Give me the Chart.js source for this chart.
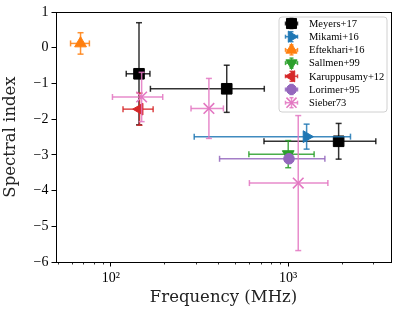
<!DOCTYPE html>
<html><head><meta charset="utf-8">
<script src="https://cdn.jsdelivr.net/npm/chart.js@4.4.1/dist/chart.umd.min.js"></script>
<style>html,body{margin:0;padding:0;background:#fff}</style>
</head><body>
<canvas id="c" width="401" height="315"></canvas>
<script>
// ---- data ----
const seriesNames = ['Meyers+17','Mikami+16','Eftekhari+16','Sallmen+99','Karuppusamy+12','Lorimer+95','Sieber73'];

const meyersFreq = [144, 450, 1925];
const meyersFreqErr = [22, 283, 1195];
const meyersIndex = [-0.73, -1.15, -2.62];
const meyersIndexErr = [1.43, 0.66, 0.50];

const mikamiFreq = [1270];
const mikamiFreqErr = [975];
const mikamiIndex = [-2.49];
const mikamiIndexErr = [0.35];

const eftekhariFreq = [67.4];
const eftekhariFreqErr = [8.2];
const eftekhariIndex = [0.12];
const eftekhariIndexErr = [0.30];

const sallmenFreq = [1000];
const sallmenFreqErr = [400];
const sallmenIndex = [-2.98];
const sallmenIndexErr = [0.38];

const karuppusamyFreq = [145];
const karuppusamyFreqErr = [28];
const karuppusamyIndex = [-1.72];
const karuppusamyIndexErr = [0.45];

const lorimerFreq = [1010];
const lorimerFreqErr = [600];
const lorimerIndex = [-3.11];
const lorimerIndexErr = [0.10];

const sieberFreq = [149, 357, 1139];
const sieberFreqErr = [47, 74, 535];
const sieberIndex = [-1.38, -1.70, -3.79];
const sieberIndexErr = [0.69, 0.84, 1.89];

const xTickValues = [100, 1000];
const xTickLabels = ['10\u00B2', '10\u00B3'];
const xMinorTicks = [50,60,70,80,90,200,300,400,500,600,700,800,900,2000,3000];

// ---- styles ----
const styles = [
  {color:'#000000', bar:'rgba(0,0,0,0.8)', pointStyle:'rect', rotation:0, radius:7.5},
  {color:'#1f77b4', bar:'rgba(31,119,180,0.85)', pointStyle:'triangle', rotation:90, radius:6.8},
  {color:'#ff7f0e', bar:'rgba(255,127,14,0.85)', pointStyle:'triangle', rotation:0, radius:6.8},
  {color:'#2ca02c', bar:'rgba(44,160,44,0.85)', pointStyle:'triangle', rotation:180, radius:6.8},
  {color:'#d62728', bar:'rgba(214,39,40,0.85)', pointStyle:'triangle', rotation:-90, radius:6.8},
  {color:'#9467bd', bar:'rgba(148,103,189,0.85)', pointStyle:'circle', rotation:0, radius:5.3},
  {color:'#e377c2', bar:'rgba(227,119,194,0.85)', pointStyle:'crossRot', rotation:0, radius:7.5}
];

const seriesData = [
  [meyersFreq, meyersFreqErr, meyersIndex, meyersIndexErr],
  [mikamiFreq, mikamiFreqErr, mikamiIndex, mikamiIndexErr],
  [eftekhariFreq, eftekhariFreqErr, eftekhariIndex, eftekhariIndexErr],
  [sallmenFreq, sallmenFreqErr, sallmenIndex, sallmenIndexErr],
  [karuppusamyFreq, karuppusamyFreqErr, karuppusamyIndex, karuppusamyIndexErr],
  [lorimerFreq, lorimerFreqErr, lorimerIndex, lorimerIndexErr],
  [sieberFreq, sieberFreqErr, sieberIndex, sieberIndexErr]
];

const datasets = seriesData.map((s, i) => ({
  label: seriesNames[i],
  data: s[0].map((f, j) => ({x: f, y: s[2][j], xerr: s[1][j], yerr: s[3][j]})),
  pointStyle: styles[i].pointStyle,
  rotation: styles[i].rotation,
  pointRadius: styles[i].radius,
  backgroundColor: styles[i].color,
  borderColor: styles[i].color,
  borderWidth: styles[i].pointStyle === 'crossRot' ? 1.6 : 1,
  order: seriesData.length - i
}));

const SERIF = "'Liberation Serif', 'DejaVu Serif', serif";
const TITLE_SERIF = "'DejaVu Serif', 'Liberation Serif', serif";
const CAP = 3;

function drawErr(ctx, x1, y1, x2, y2) {
  ctx.beginPath(); ctx.moveTo(x1, y1); ctx.lineTo(x2, y2); ctx.stroke();
}

const errorBars = {
  id: 'errorBars',
  beforeDatasetDraw(chart, args) {
    const ctx = chart.ctx;
    const xs = chart.scales.x, ys = chart.scales.y;
    const ds = chart.data.datasets[args.index];
    const st = styles[args.index];
    ctx.save();
    ctx.strokeStyle = st.bar;
    ctx.lineWidth = 1.5;
    ds.data.forEach(p => {
      const px = xs.getPixelForValue(p.x), py = ys.getPixelForValue(p.y);
      const xl = xs.getPixelForValue(p.x - p.xerr), xr = xs.getPixelForValue(p.x + p.xerr);
      const yt = ys.getPixelForValue(p.y + p.yerr), yb = ys.getPixelForValue(p.y - p.yerr);
      drawErr(ctx, xl, py, xr, py);
      drawErr(ctx, xl, py - CAP, xl, py + CAP);
      drawErr(ctx, xr, py - CAP, xr, py + CAP);
      drawErr(ctx, px, yt, px, yb);
      drawErr(ctx, px - CAP, yt, px + CAP, yt);
      drawErr(ctx, px - CAP, yb, px + CAP, yb);
    });
    ctx.restore();
  }
};

const frameAndLegend = {
  id: 'frameAndLegend',
  afterDraw(chart) {
    const ctx = chart.ctx;
    const a = chart.chartArea;
    const xs = chart.scales.x;
    ctx.save();
    // minor ticks on log axis
    ctx.strokeStyle = '#000'; ctx.lineWidth = 0.8;
    xMinorTicks.forEach(v => {
      const px = Math.round(xs.getPixelForValue(v)) + 0.5;
      if (px < a.left || px > a.right) return;
      drawErr(ctx, px, a.bottom, px, a.bottom + 2.5);
    });
    // frame
    ctx.strokeStyle = '#000'; ctx.lineWidth = 1;
    ctx.strokeRect(Math.round(a.left) + 0.5, Math.round(a.top) + 0.5,
                   Math.round(a.right - a.left), Math.round(a.bottom - a.top));
    // legend
    const lx = 279, ly = 17, lw = 108, lh = 95, r = 3;
    ctx.beginPath();
    ctx.moveTo(lx + r, ly); ctx.lineTo(lx + lw - r, ly); ctx.quadraticCurveTo(lx + lw, ly, lx + lw, ly + r);
    ctx.lineTo(lx + lw, ly + lh - r); ctx.quadraticCurveTo(lx + lw, ly + lh, lx + lw - r, ly + lh);
    ctx.lineTo(lx + r, ly + lh); ctx.quadraticCurveTo(lx, ly + lh, lx, ly + lh - r);
    ctx.lineTo(lx, ly + r); ctx.quadraticCurveTo(lx, ly, lx + r, ly);
    ctx.closePath();
    ctx.fillStyle = 'rgba(255,255,255,0.85)'; ctx.fill();
    ctx.strokeStyle = '#d0d0d0'; ctx.lineWidth = 1; ctx.stroke();
    ctx.font = '10.5px ' + SERIF;
    ctx.textBaseline = 'middle'; ctx.textAlign = 'left';
    seriesNames.forEach((name, i) => {
      const st = styles[i];
      const mx = 291.5, my = 23.5 + i * 13.2;
      ctx.strokeStyle = st.bar; ctx.lineWidth = 1.5;
      drawErr(ctx, mx - 6, my, mx + 6, my);
      drawErr(ctx, mx, my - 5, mx, my + 5);
      drawErr(ctx, mx - 6, my - 2, mx - 6, my + 2);
      drawErr(ctx, mx + 6, my - 2, mx + 6, my + 2);
      drawErr(ctx, mx - 2, my - 5, mx + 2, my - 5);
      drawErr(ctx, mx - 2, my + 5, mx + 2, my + 5);
      ctx.fillStyle = st.color; ctx.strokeStyle = st.color;
      ctx.lineWidth = st.pointStyle === 'crossRot' ? 1.6 : 1;
      Chart.helpers.drawPoint(ctx, {pointStyle: st.pointStyle, rotation: st.rotation,
        radius: st.radius * 0.95, borderWidth: ctx.lineWidth}, mx, my);
      ctx.fillStyle = '#000';
      ctx.fillText(name, 309, my + 0.5);
    });
    ctx.restore();
  }
};

new Chart(document.getElementById('c'), {
  type: 'scatter',
  data: {datasets},
  options: {
    responsive: false,
    animation: false,
    devicePixelRatio: 1,
    layout: {padding: {top: 12, right: 10, left: 0, bottom: 6}},
    plugins: {legend: {display: false}, tooltip: {enabled: false}},
    scales: {
      x: {
        type: 'logarithmic', min: 49, max: 3800,
        afterBuildTicks: s => { s.ticks = xTickValues.map(v => ({value: v, major: true})); },
        afterFit: s => { s.height = 315 - 262 - 6; },
        ticks: {
          autoSkip: false, maxRotation: 0, padding: 3, color: '#000',
          font: {family: SERIF, size: 14},
          callback: v => { const k = xTickValues.indexOf(v); return k >= 0 ? xTickLabels[k] : ''; }
        },
        grid: {drawOnChartArea: false, tickLength: 4.5, color: '#000', tickWidth: 1},
        border: {display: true, color: '#000', width: 1},
        title: {display: true, text: 'Frequency (MHz)', color: '#222',
                font: {family: TITLE_SERIF, size: 16.5}, padding: {top: 0, bottom: 1}}
      },
      y: {
        min: -6, max: 1,
        afterFit: s => { s.width = 56; },
        ticks: {
          stepSize: 1, padding: 3, color: '#000',
          font: {family: SERIF, size: 14},
          callback: v => String(v).replace('-', '\u2212')
        },
        grid: {drawOnChartArea: false, tickLength: 4.5, color: '#000', tickWidth: 1},
        border: {display: true, color: '#000', width: 1},
        title: {display: true, text: 'Spectral index', color: '#222',
                font: {family: TITLE_SERIF, size: 16.5}, padding: {top: 1, bottom: 2}}
      }
    }
  },
  plugins: [errorBars, frameAndLegend]
});
</script>
</body></html>
